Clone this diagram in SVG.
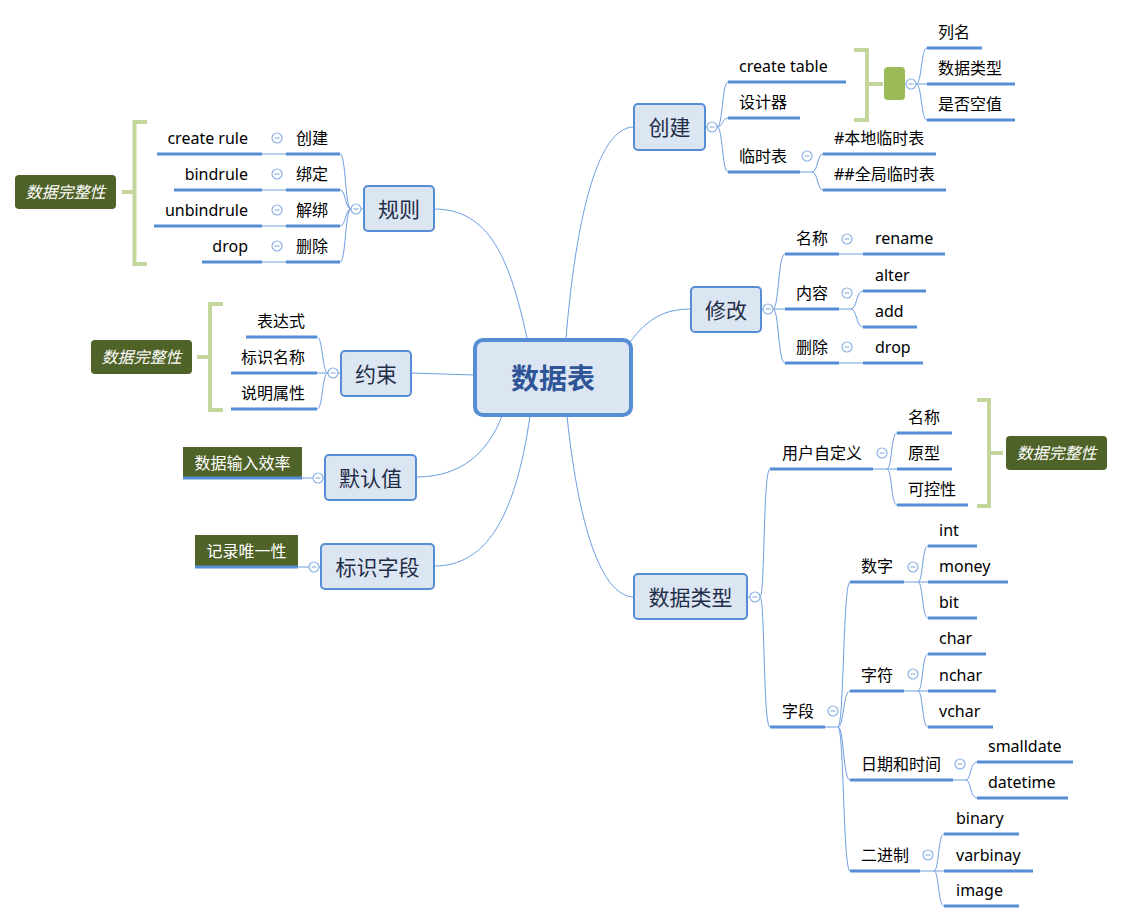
<svg xmlns="http://www.w3.org/2000/svg" xmlns:xlink="http://www.w3.org/1999/xlink" width="1123" height="923" viewBox="0 0 1123 923">
<style>
text{font-family:"Noto Sans","Noto Sans CJK SC",sans-serif}
.topic{fill:#dce6f2;stroke:#558ed5;stroke-width:2}
.tt{font-size:21px;fill:#1f2d48;text-anchor:middle;dominant-baseline:central}
.t{font-size:16px;fill:#000}
.e{text-anchor:end}
.ul{stroke:#558ed5;stroke-width:3;fill:none}
.c{fill:none;stroke:#6d9de0;stroke-width:1}
.br{fill:none;stroke:#c3d69b;stroke-width:4}
.lab{fill:#4f6228}
.labt{font-size:16px;fill:#fff;font-style:italic;text-anchor:middle;dominant-baseline:central}
.labn{font-size:16px;fill:#fff;text-anchor:middle;dominant-baseline:central}
</style>
<defs>
<g id="col"><circle r="5" fill="#fff" stroke="#8db3e2" stroke-width="1.2"/><path d="M-2.5,0H2.5" stroke="#8db3e2" stroke-width="1.2"/></g>
</defs>
<rect width="1123" height="923" fill="#fff"/>

<g id="connectors" class="c">
<path d="M527,338 C510,260 490,209 434,209"/>
<path d="M566,338 C575,230 595,127 634,127"/>
<path d="M630,342 C648,318 665,309 691,309"/>
<path d="M474,375 L411,373"/>
<path d="M502,416 C488,452 462,477 416,477"/>
<path d="M530,416 C515,520 485,566 434,566"/>
<path d="M567,416 C580,540 605,597 634,597"/>
<!-- 创建 -->
<path d="M706,127 H707"/>
<path d="M717,127 C723,127 722,82 728,82"/>
<path d="M717,127 C723,127 722,118 728,118"/>
<path d="M717,127 C723,127 722,172 728,172"/>
<path d="M800,172 H812"/>
<path d="M812,172 C818,172 817,154 823,154"/>
<path d="M812,172 C818,172 817,190 823,190"/>
<path d="M905,84 H906"/>
<path d="M916,84 C922,84 921,48 927,48"/>
<path d="M916,84 H927"/>
<path d="M916,84 C922,84 921,120 927,120"/>
<!-- 修改 -->
<path d="M762,309 H763"/>
<path d="M773,309 C779,309 778,254 785,254"/>
<path d="M773,309 H785"/>
<path d="M773,309 C779,309 778,363 785,363"/>
<path d="M839,254 H863"/>
<path d="M839,309 H851"/>
<path d="M851,309 C857,309 856,291 863,291"/>
<path d="M851,309 C857,309 856,327 863,327"/>
<path d="M839,363 H863"/>
<!-- 数据类型 -->
<path d="M748,597 H750"/>
<path d="M760,597 C765,597 763,469 770,469"/>
<path d="M760,597 C765,597 763,727 770,727"/>
<path d="M873,469 H887"/>
<path d="M887,469 C892,469 891,433 897,433"/>
<path d="M887,469 H897"/>
<path d="M887,469 C892,469 891,505 897,505"/>
<path d="M825,727 H838"/>
<path d="M838,727 C844,727 843,582 850,582"/>
<path d="M838,727 C844,727 843,691 850,691"/>
<path d="M838,727 C844,727 843,780 850,780"/>
<path d="M838,727 C844,727 843,871 850,871"/>
<path d="M904,582 H918"/>
<path d="M918,582 C923,582 922,546 928,546"/>
<path d="M918,582 H928"/>
<path d="M918,582 C923,582 922,618 928,618"/>
<path d="M904,691 H918"/>
<path d="M918,691 C923,691 922,654 928,654"/>
<path d="M918,691 H928"/>
<path d="M918,691 C923,691 922,727 928,727"/>
<path d="M953,780 H966"/>
<path d="M966,780 C971,780 970,762 977,762"/>
<path d="M966,780 C971,780 970,798 977,798"/>
<path d="M920,871 H934"/>
<path d="M934,871 C939,871 938,834 944,834"/>
<path d="M934,871 H944"/>
<path d="M934,871 C939,871 938,906 944,906"/>
<!-- 规则 -->
<path d="M363,209 H361"/>
<path d="M351,209 C345,209 346,154 340,154"/>
<path d="M351,209 C345,209 346,190 340,190"/>
<path d="M351,209 C345,209 346,226 340,226"/>
<path d="M351,209 C345,209 346,262 340,262"/>
<path d="M262,154 H286"/>
<path d="M262,190 H286"/>
<path d="M262,226 H286"/>
<path d="M262,262 H286"/>
<!-- 约束 -->
<path d="M340,373 H338"/>
<path d="M328,373 C322,373 323,337 317,337"/>
<path d="M328,373 H317"/>
<path d="M328,373 C322,373 323,409 317,409"/>
<!-- 默认值 / 标识字段 -->
<path d="M302,478 H313"/>
<path d="M323,478 H325"/>
<path d="M298,567 H309"/>
<path d="M319,567 H321"/>
</g>

<g id="n-center">
<rect x="475" y="340" width="156" height="75" rx="8" fill="#dce6f2" stroke="#558ed5" stroke-width="4"/>
<text x="553" y="378" font-size="28" font-weight="bold" fill="#2f5597" text-anchor="middle" dominant-baseline="central">数据表</text>
</g>

<g id="n-chuangjian">
<rect class="topic" x="634" y="104" width="71" height="46" rx="4"/>
<text class="tt" x="669.5" y="127">创建</text>
<use xlink:href="#col" x="712" y="127"/>
</g>
<g id="n-createtable"><path class="ul" d="M728,82 H846"/><text class="t" x="739" y="72">create table</text></g>
<g id="n-designer"><path class="ul" d="M728,118 H800"/><text class="t" x="739" y="108">设计器</text></g>
<g id="n-temp"><path class="ul" d="M728,172 H800"/><text class="t" x="739" y="162">临时表</text><use xlink:href="#col" x="807" y="156"/></g>
<g id="n-localtemp"><path class="ul" d="M823,154 H936"/><text class="t" x="834" y="144">#本地临时表</text></g>
<g id="n-globaltemp"><path class="ul" d="M823,190 H946"/><text class="t" x="834" y="180">##全局临时表</text></g>
<g id="n-summary1">
<path class="br" d="M854,50 H867 V120 H854 M867,84 H883"/>
<rect x="884" y="67" width="21" height="33" rx="4" fill="#9bbb59"/>
<use xlink:href="#col" x="911" y="84"/>
</g>
<g id="n-colname"><path class="ul" d="M927,48 H982"/><text class="t" x="938" y="38">列名</text></g>
<g id="n-coltype"><path class="ul" d="M927,84 H1015"/><text class="t" x="938" y="74">数据类型</text></g>
<g id="n-colnull"><path class="ul" d="M927,120 H1015"/><text class="t" x="938" y="110">是否空值</text></g>

<g id="n-xiugai">
<rect class="topic" x="691" y="287" width="70" height="45" rx="4"/>
<text class="tt" x="726" y="309.5">修改</text>
<use xlink:href="#col" x="768" y="309"/>
</g>
<g id="n-mname"><path class="ul" d="M785,254 H839"/><text class="t" x="796" y="244">名称</text><use xlink:href="#col" x="847" y="239"/></g>
<g id="n-rename"><path class="ul" d="M863,254 H945"/><text class="t" x="875" y="244">rename</text></g>
<g id="n-mcontent"><path class="ul" d="M785,309 H839"/><text class="t" x="796" y="299">内容</text><use xlink:href="#col" x="847" y="293"/></g>
<g id="n-alter"><path class="ul" d="M863,291 H926"/><text class="t" x="875" y="281">alter</text></g>
<g id="n-add"><path class="ul" d="M863,327 H917"/><text class="t" x="875" y="317">add</text></g>
<g id="n-mdel"><path class="ul" d="M785,363 H839"/><text class="t" x="796" y="353">删除</text><use xlink:href="#col" x="847" y="347"/></g>
<g id="n-mdrop"><path class="ul" d="M863,363 H923"/><text class="t" x="875" y="353">drop</text></g>

<g id="n-types">
<rect class="topic" x="634" y="574" width="113" height="45" rx="4"/>
<text class="tt" x="690.5" y="596.5">数据类型</text>
<use xlink:href="#col" x="755" y="597"/>
</g>
<g id="n-userdef"><path class="ul" d="M770,469 H873"/><text class="t" x="782" y="459">用户自定义</text><use xlink:href="#col" x="882" y="453"/></g>
<g id="n-uname"><path class="ul" d="M897,433 H952"/><text class="t" x="908" y="423">名称</text></g>
<g id="n-uproto"><path class="ul" d="M897,469 H952"/><text class="t" x="908" y="459">原型</text></g>
<g id="n-unull"><path class="ul" d="M897,505 H968"/><text class="t" x="908" y="495">可控性</text></g>
<g id="n-summary2">
<path class="br" d="M977,400 H989 V506 H977 M989,453 H1003"/>
<rect class="lab" x="1006" y="436" width="101" height="34" rx="4"/>
<text class="labt" x="1056.5" y="453">数据完整性</text>
</g>
<g id="n-field"><path class="ul" d="M770,727 H825"/><text class="t" x="782" y="717">字段</text><use xlink:href="#col" x="833" y="711"/></g>
<g id="n-num"><path class="ul" d="M850,582 H904"/><text class="t" x="861" y="572">数字</text><use xlink:href="#col" x="913" y="567"/></g>
<g id="n-int"><path class="ul" d="M928,546 H977"/><text class="t" x="939" y="536">int</text></g>
<g id="n-money"><path class="ul" d="M928,582 H1008"/><text class="t" x="939" y="572">money</text></g>
<g id="n-bit"><path class="ul" d="M928,618 H977"/><text class="t" x="939" y="608">bit</text></g>
<g id="n-str"><path class="ul" d="M850,691 H904"/><text class="t" x="861" y="681">字符</text><use xlink:href="#col" x="913" y="674"/></g>
<g id="n-char"><path class="ul" d="M928,654 H986"/><text class="t" x="939" y="644">char</text></g>
<g id="n-nchar"><path class="ul" d="M928,691 H996"/><text class="t" x="939" y="681">nchar</text></g>
<g id="n-vchar"><path class="ul" d="M928,727 H993"/><text class="t" x="939" y="717">vchar</text></g>
<g id="n-date"><path class="ul" d="M850,780 H953"/><text class="t" x="861" y="770">日期和时间</text><use xlink:href="#col" x="960" y="764"/></g>
<g id="n-smalldate"><path class="ul" d="M977,762 H1073"/><text class="t" x="988" y="752">smalldate</text></g>
<g id="n-datetime"><path class="ul" d="M977,798 H1068"/><text class="t" x="988" y="788">datetime</text></g>
<g id="n-bin"><path class="ul" d="M850,871 H920"/><text class="t" x="861" y="861">二进制</text><use xlink:href="#col" x="928" y="855"/></g>
<g id="n-binary"><path class="ul" d="M944,834 H1019"/><text class="t" x="956" y="824">binary</text></g>
<g id="n-varbinay"><path class="ul" d="M944,871 H1033"/><text class="t" x="956" y="861">varbinay</text></g>
<g id="n-image"><path class="ul" d="M944,906 H1019"/><text class="t" x="956" y="896">image</text></g>

<g id="n-rule">
<rect class="topic" x="364" y="186" width="70" height="45" rx="4"/>
<text class="tt" x="399" y="208.5">规则</text>
<use xlink:href="#col" x="356" y="209"/>
</g>
<g id="n-rcreate"><path class="ul" d="M286,154 H340"/><text class="t" x="296" y="144">创建</text><use xlink:href="#col" x="277" y="138"/></g>
<g id="n-createrule"><path class="ul" d="M157,154 H262"/><text class="t e" x="248" y="144">create rule</text></g>
<g id="n-rbind"><path class="ul" d="M286,190 H340"/><text class="t" x="296" y="180">绑定</text><use xlink:href="#col" x="277" y="174"/></g>
<g id="n-bindrule"><path class="ul" d="M174,190 H262"/><text class="t e" x="248" y="180">bindrule</text></g>
<g id="n-runbind"><path class="ul" d="M286,226 H340"/><text class="t" x="296" y="216">解绑</text><use xlink:href="#col" x="277" y="210"/></g>
<g id="n-unbindrule"><path class="ul" d="M154,226 H262"/><text class="t e" x="248" y="216">unbindrule</text></g>
<g id="n-rdel"><path class="ul" d="M286,262 H340"/><text class="t" x="296" y="252">删除</text><use xlink:href="#col" x="277" y="246"/></g>
<g id="n-rdrop"><path class="ul" d="M202,262 H262"/><text class="t e" x="248" y="252">drop</text></g>
<g id="n-summary3">
<path class="br" d="M147,122 H134.5 V264 H147 M134.5,192 H122"/>
<rect class="lab" x="15" y="175" width="101" height="34" rx="4"/>
<text class="labt" x="65.5" y="192">数据完整性</text>
</g>

<g id="n-constraint">
<rect class="topic" x="341" y="351" width="70" height="45" rx="4"/>
<text class="tt" x="376" y="373.5">约束</text>
<use xlink:href="#col" x="333" y="373"/>
</g>
<g id="n-expr"><path class="ul" d="M246,337 H317"/><text class="t e" x="305" y="327">表达式</text></g>
<g id="n-idname"><path class="ul" d="M231,373 H317"/><text class="t e" x="305" y="363">标识名称</text></g>
<g id="n-desc"><path class="ul" d="M231,409 H317"/><text class="t e" x="305" y="399">说明属性</text></g>
<g id="n-summary4">
<path class="br" d="M223,304 H210 V410 H223 M210,357 H197"/>
<rect class="lab" x="91" y="340" width="101" height="34" rx="4"/>
<text class="labt" x="141.5" y="357">数据完整性</text>
</g>

<g id="n-default">
<rect class="topic" x="325" y="455" width="91" height="45" rx="4"/>
<text class="tt" x="370.5" y="477.5">默认值</text>
<use xlink:href="#col" x="318" y="478"/>
</g>
<g id="n-defnote">
<rect class="lab" x="183" y="447" width="119" height="31"/>
<path class="ul" d="M183,478 H302"/>
<text class="labn" x="242.5" y="463">数据输入效率</text>
</g>
<g id="n-identity">
<rect class="topic" x="321" y="544" width="113" height="45" rx="4"/>
<text class="tt" x="377.5" y="566.5">标识字段</text>
<use xlink:href="#col" x="314" y="567"/>
</g>
<g id="n-idnote">
<rect class="lab" x="195" y="535" width="103" height="32"/>
<path class="ul" d="M195,567 H298"/>
<text class="labn" x="246.5" y="551">记录唯一性</text>
</g>
</svg>
